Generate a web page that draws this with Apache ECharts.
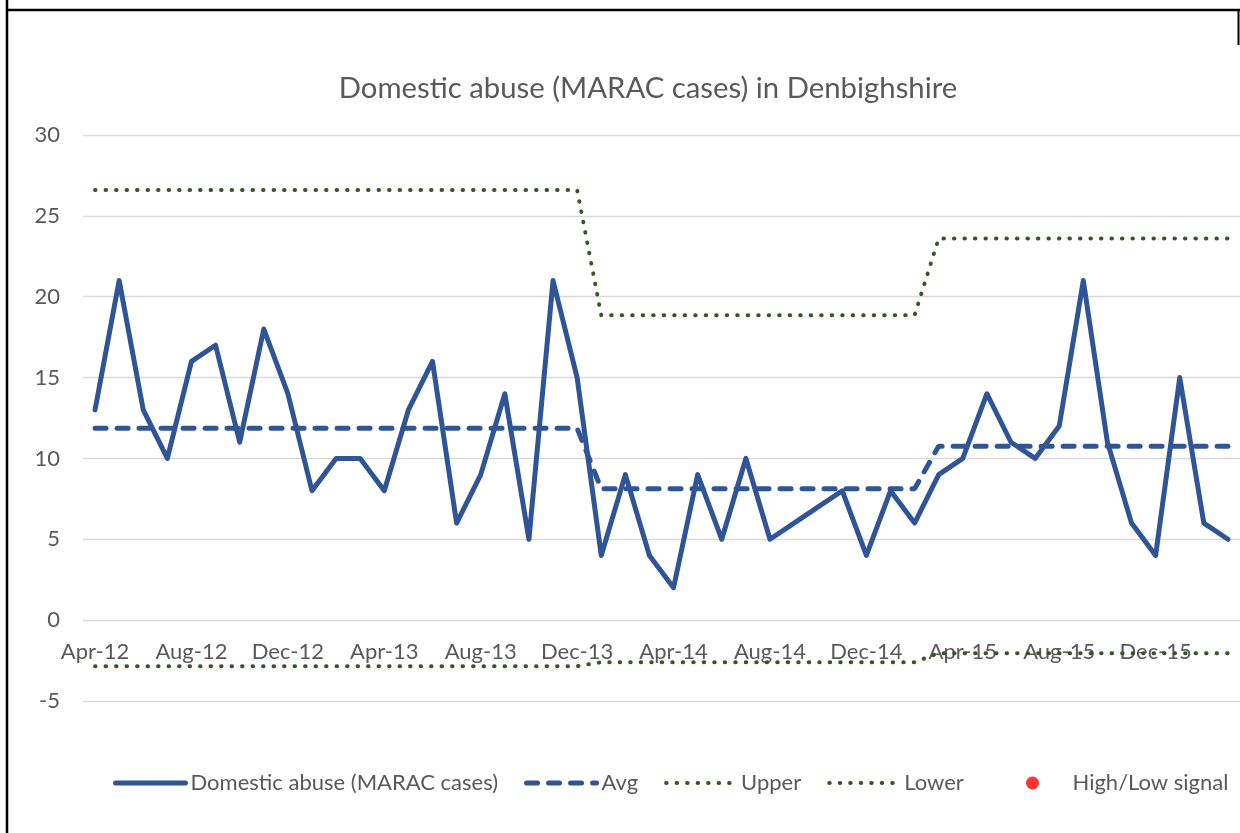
<!DOCTYPE html>
<html>
<head>
<meta charset="utf-8">
<title>Domestic abuse (MARAC cases) in Denbighshire</title>
<script src="https://cdn.jsdelivr.net/npm/echarts@6/dist/echarts.min.js"></script>
<style>
  html, body { margin: 0; padding: 0; background: #fff; }
  #chart { width: 1240px; height: 833px; }
</style>
</head>
<body>
<div id="chart"></div>
<script>
// months Apr-12 .. Mar-16
const months = [
  'Apr-12', 'May-12', 'Jun-12', 'Jul-12', 'Aug-12', 'Sep-12', 'Oct-12', 'Nov-12', 'Dec-12', 'Jan-13', 'Feb-13', 'Mar-13',
  'Apr-13', 'May-13', 'Jun-13', 'Jul-13', 'Aug-13', 'Sep-13', 'Oct-13', 'Nov-13', 'Dec-13', 'Jan-14', 'Feb-14', 'Mar-14',
  'Apr-14', 'May-14', 'Jun-14', 'Jul-14', 'Aug-14', 'Sep-14', 'Oct-14', 'Nov-14', 'Dec-14', 'Jan-15', 'Feb-15', 'Mar-15',
  'Apr-15', 'May-15', 'Jun-15', 'Jul-15', 'Aug-15', 'Sep-15', 'Oct-15', 'Nov-15', 'Dec-15', 'Jan-16', 'Feb-16', 'Mar-16'
]

const cases = [
  13, 21, 13, 10, 16, 17, 11, 18, 14, 8, 10, 10,
  8, 13, 16, 6, 9, 14, 5, 21, 15, 4, 9, 4,
  2, 9, 5, 10, 5, 6, 7, 8, 4, 8, 6, 9,
  10, 14, 11, 10, 12, 21, 11, 6, 4, 15, 6, 5
]

const avg = [
  11.86, 11.86, 11.86, 11.86, 11.86, 11.86, 11.86, 11.86, 11.86, 11.86, 11.86, 11.86,
  11.86, 11.86, 11.86, 11.86, 11.86, 11.86, 11.86, 11.86, 11.86, 8.12, 8.12, 8.12,
  8.12, 8.12, 8.12, 8.12, 8.12, 8.12, 8.12, 8.12, 8.12, 8.12, 8.12, 10.76,
  10.76, 10.76, 10.76, 10.76, 10.76, 10.76, 10.76, 10.76, 10.76, 10.76, 10.76, 10.76
]

const upper = [
  26.6, 26.6, 26.6, 26.6, 26.6, 26.6, 26.6, 26.6, 26.6, 26.6, 26.6, 26.6,
  26.6, 26.6, 26.6, 26.6, 26.6, 26.6, 26.6, 26.6, 26.6, 18.86, 18.86, 18.86,
  18.86, 18.86, 18.86, 18.86, 18.86, 18.86, 18.86, 18.86, 18.86, 18.86, 18.86, 23.6,
  23.6, 23.6, 23.6, 23.6, 23.6, 23.6, 23.6, 23.6, 23.6, 23.6, 23.6, 23.6
]

const lower = [
  -2.85, -2.85, -2.85, -2.85, -2.85, -2.85, -2.85, -2.85, -2.85, -2.85, -2.85, -2.85,
  -2.85, -2.85, -2.85, -2.85, -2.85, -2.85, -2.85, -2.85, -2.85, -2.6, -2.6, -2.6,
  -2.6, -2.6, -2.6, -2.6, -2.6, -2.6, -2.6, -2.6, -2.6, -2.6, -2.6, -2.04,
  -2.04, -2.04, -2.04, -2.04, -2.04, -2.04, -2.04, -2.04, -2.04, -2.04, -2.04, -2.04
]

// no high/low signals flagged in the picture
const signals = []

const textColor = '#595959'
const fontFamily = 'Lato'
const blue = '#2F5597'
const green = '#375623'

const hideDot = { color: 'rgba(0,0,0,0)', borderWidth: 0, opacity: 0 }
const legendText = { color: textColor, fontSize: 22, fontFamily: fontFamily }

const chart = echarts.init(document.getElementById('chart'))

chart.setOption({
  animation: false,
  textStyle: { fontFamily: fontFamily },
  title: {
    text: 'Domestic abuse (MARAC cases) in Denbighshire',
    left: 643,
    top: 69,
    textAlign: 'center',
    textStyle: { color: textColor, fontSize: 29.3, fontWeight: 'normal', fontFamily: fontFamily }
  },
  legend: [
    {
      left: 108,
      top: 767,
      itemWidth: 70,
      itemHeight: 13,
      itemGap: 26,
      textStyle: legendText,
      data: [
        { name: 'Domestic abuse (MARAC cases)', itemStyle: hideDot, lineStyle: { width: 5 } },
        { name: 'Avg', itemStyle: hideDot, lineStyle: { width: 5 } },
        { name: 'Upper', itemStyle: hideDot, lineStyle: { width: 4 } },
        { name: 'Lower', itemStyle: hideDot, lineStyle: { width: 4 } }
      ]
    },
    {
      left: 1021,
      top: 767,
      itemWidth: 70,
      itemHeight: 13,
      textStyle: legendText,
      data: ['High/Low signal']
    }
  ],
  grid: { left: 83, top: 135, width: 1159, height: 566 },
  xAxis: {
    type: 'category',
    data: months,
    boundaryGap: true,
    position: 'bottom',
    // labels sit at the zero line, as in the original
    offset: -81,
    axisLine: { show: false, onZero: false },
    axisTick: { show: false },
    axisLabel: { interval: 3, color: textColor, fontSize: 22, margin: 21 },
    splitLine: { show: false }
  },
  yAxis: {
    type: 'value',
    min: -5,
    max: 30,
    interval: 5,
    axisLine: { show: false },
    axisTick: { show: false },
    axisLabel: { color: textColor, fontSize: 22, margin: 23 },
    splitLine: { lineStyle: { color: '#D9D9D9', width: 1.3 } }
  },
  series: [
    {
      name: 'Domestic abuse (MARAC cases)',
      type: 'line',
      data: cases,
      symbol: 'none',
      z: 5,
      lineStyle: { color: blue, width: 5, join: 'round', cap: 'round' },
      itemStyle: { color: blue }
    },
    {
      name: 'Avg',
      type: 'line',
      data: avg,
      symbol: 'none',
      z: 4,
      lineStyle: { color: blue, width: 5, type: [11, 11], cap: 'round' },
      itemStyle: { color: blue }
    },
    {
      name: 'Upper',
      type: 'line',
      data: upper,
      symbol: 'none',
      z: 3,
      lineStyle: { color: green, width: 4, type: [0.5, 10], cap: 'round' },
      itemStyle: { color: green }
    },
    {
      name: 'Lower',
      type: 'line',
      data: lower,
      symbol: 'none',
      z: 3,
      lineStyle: { color: green, width: 4, type: [0.5, 10], cap: 'round' },
      itemStyle: { color: green }
    },
    {
      name: 'High/Low signal',
      type: 'scatter',
      data: signals,
      symbolSize: 12,
      itemStyle: { color: '#FF0000' }
    }
  ],
  graphic: [
    { type: 'line', shape: { x1: 6, y1: 10, x2: 1240, y2: 10 }, style: { stroke: '#000', lineWidth: 2.5 } },
    { type: 'line', shape: { x1: 7, y1: 0, x2: 7, y2: 833 }, style: { stroke: '#000', lineWidth: 2.5 } },
    { type: 'line', shape: { x1: 1238.5, y1: 10, x2: 1238.5, y2: 45 }, style: { stroke: '#000', lineWidth: 2 } }
  ]
})
</script>
</body>
</html>
